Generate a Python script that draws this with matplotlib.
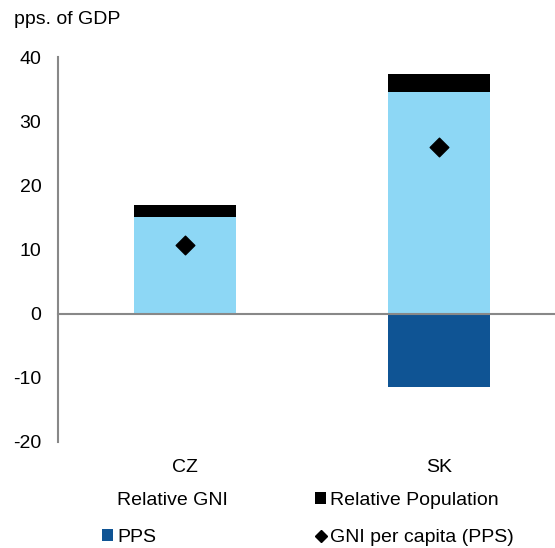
import matplotlib
matplotlib.use('Agg')
import matplotlib.pyplot as plt
from matplotlib.lines import Line2D
from matplotlib.patches import Patch

plt.rcParams['font.family'] = ['Liberation Sans', 'DejaVu Sans']
plt.rcParams['axes.unicode_minus'] = False

countries = ['CZ', 'SK']
pps = [0.0, -11.5]
relative_gni = [15.1, 34.6]
relative_population = [1.9, 2.7]
gni_per_capita = [10.7, 25.9]

light_blue = '#8dd7f5'
dark_blue = '#0f5494'
grey = '#888888'

W, H = 555, 548
fig = plt.figure(figsize=(W / 100, H / 100), dpi=100)
ax = fig.add_axes([58 / W, 1 - 442 / H, 508 / W, (442 - 57) / H])

x = list(range(len(countries)))
ax.bar(x, pps, width=0.4, color=dark_blue, zorder=2)
ax.bar(x, relative_gni, width=0.4, color=light_blue, zorder=2)
ax.bar(x, relative_population, width=0.4, bottom=relative_gni, color='black', zorder=2)
ax.scatter(x, gni_per_capita, marker='D', s=90, color='black', zorder=3)

ax.axhline(0, color=grey, lw=1.5, zorder=4, clip_on=False)
ax.set_xlim(-0.5, 1.5)
ax.set_ylim(-20, 40)
ax.set_yticks([-20, -10, 0, 10, 20, 30, 40])
ax.set_xticks(x)
ax.set_xticklabels(countries)
ax.tick_params(length=0, labelsize=14, pad=12)
ax.tick_params(axis='x', pad=12)
for s in ['top', 'right', 'bottom']:
    ax.spines[s].set_visible(False)
ax.spines['left'].set_color(grey)
ax.spines['left'].set_linewidth(1.5)

fig.text(14 / W, 1 - 20 / H, 'pps. of GDP', fontsize=14, va='center')

handles = [
    Patch(facecolor='none', edgecolor='none', label='Relative GNI'),
    Patch(facecolor=dark_blue, label='PPS'),
    Patch(facecolor='black', label='Relative Population'),
    Line2D([], [], marker='D', color='black', ls='none', markersize=6,
           label='GNI per capita (PPS)'),
]
fig.legend(handles=handles, ncol=2, loc='center', bbox_to_anchor=(308 / W, 1 - 519 / H),
           frameon=False, fontsize=14, handlelength=0.55, handleheight=0.55,
           handletextpad=0.2, columnspacing=4.5, labelspacing=1.05)

fig.savefig('out.png', dpi=100)
